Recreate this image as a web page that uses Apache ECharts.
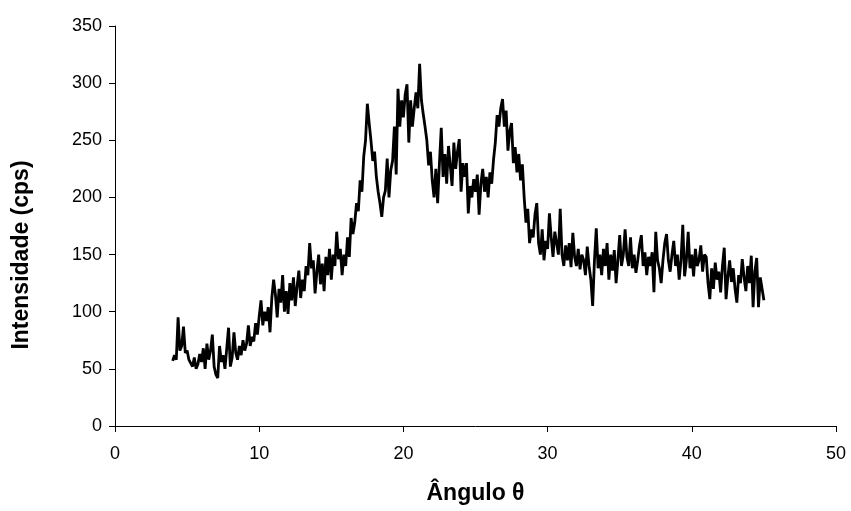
<!DOCTYPE html>
<html>
<head>
<meta charset="utf-8">
<script src="https://cdn.jsdelivr.net/npm/echarts@6/dist/echarts.min.js"></script>
<style>
  html, body { margin: 0; padding: 0; background: #fff; }
  #chart { width: 851px; height: 511px; }
</style>
</head>
<body>
<div id="chart"></div>
<script>
// varredura: 4.0 a 45.0 graus, passo 0.125
var angleStart = 4.0;
var angleStep = 0.125;

// intensidade (cps), uma linha por grau
var intensity = [
    57, 62, 58, 95, 66, 70, 87, 64,       // 4
    66, 58, 55, 52, 60, 50, 54, 63,       // 5
    56, 68, 50, 72, 58, 66, 80, 52,       // 6
    45, 42, 70, 56, 62, 50, 68, 86,       // 7
    52, 60, 82, 64, 58, 70, 62, 75,       // 8
    66, 72, 88, 70, 78, 74, 90, 80,       // 9
    96, 110, 88, 100, 92, 104, 82, 112,   // 10
    128, 115, 95, 120, 108, 132, 100, 118, // 11
    98, 125, 110, 130, 105, 122, 136, 112, // 12
    128, 118, 140, 132, 160, 138, 145, 116, // 13
    135, 150, 124, 142, 118, 148, 132, 155, // 14
    128, 150, 140, 170, 146, 155, 132, 150, // 15
    140, 165, 148, 182, 168, 178, 195, 188, // 16
    215, 205, 236, 250, 282, 265, 250, 232, // 17
    240, 218, 205, 195, 183, 200, 206, 234, // 18
    200, 224, 232, 262, 220, 295, 262, 285, // 19
    270, 290, 299, 248, 285, 262, 278, 292, // 20
    278, 317, 285, 273, 262, 250, 228, 240, // 21
    215, 200, 225, 195, 230, 261, 218, 238, // 22
    212, 245, 228, 210, 248, 225, 240, 251, // 23
    205, 230, 218, 230, 186, 210, 200, 216, // 24
    205, 220, 185, 212, 225, 205, 218, 200, // 25
    222, 212, 233, 248, 272, 262, 278, 286, // 26
    262, 276, 241, 258, 265, 230, 244, 222, // 27
    238, 215, 229, 200, 178, 190, 160, 172, // 28
    165, 185, 195, 160, 150, 172, 145, 162, // 29
    155, 186, 165, 148, 170, 160, 150, 190, // 30
    150, 140, 158, 145, 160, 139, 169, 148, // 31
    140, 155, 137, 150, 145, 132, 157, 140, // 32
    128, 105, 145, 173, 138, 150, 132, 155, // 33
    140, 160, 128, 150, 136, 154, 125, 145, // 34
    167, 140, 150, 172, 148, 140, 165, 138, // 35
    150, 134, 145, 158, 167, 140, 152, 132, // 36
    148, 140, 152, 117, 170, 145, 138, 125, // 37
    145, 160, 168, 145, 135, 150, 162, 140, // 38
    150, 128, 145, 176, 131, 145, 170, 138, // 39
    150, 131, 155, 140, 145, 158, 135, 150, // 40
    148, 125, 111, 138, 120, 143, 128, 135, // 41
    117, 140, 156, 111, 130, 145, 126, 138, // 42
    120, 108, 132, 125, 146, 130, 118, 140, // 43
    125, 149, 104, 135, 147, 104, 130, 120, // 44
    110                                     // 45
];

var xTicks = [0, 10, 20, 30, 40, 50];
var yTicks = [0, 50, 100, 150, 200, 250, 300, 350];

var points = [];
for (var i = 0; i < intensity.length; i++) {
    points.push([angleStart + i * angleStep, intensity[i]]);
}

var myChart = echarts.init(document.getElementById('chart'));
var font = 'Liberation Sans, Arial, sans-serif';

var option = {
    backgroundColor: '#fff',
    animation: false,
    grid: { left: 115, right: 15, top: 26, bottom: 85 },
    xAxis: {
        type: 'value',
        min: xTicks[0],
        max: xTicks[xTicks.length - 1],
        interval: 10,
        name: 'Ângulo θ',
        nameLocation: 'middle',
        nameGap: 56,
        nameTextStyle: { color: '#000', fontSize: 23, fontWeight: 'bold', fontFamily: font },
        axisLine: { lineStyle: { color: '#000', width: 1 } },
        axisTick: { inside: false, length: 6, lineStyle: { color: '#000' } },
        axisLabel: { color: '#000', fontSize: 18, fontFamily: font, margin: 19 },
        splitLine: { show: false }
    },
    yAxis: {
        type: 'value',
        min: yTicks[0],
        max: yTicks[yTicks.length - 1],
        interval: 50,
        name: 'Intensidade (cps)',
        nameLocation: 'middle',
        nameGap: 82,
        nameTextStyle: {
            color: '#000', fontSize: 23, fontWeight: 'bold', fontFamily: font,
            padding: [0, 58, 0, 0]   // empurra o título um pouco para baixo
        },
        axisLine: { show: true, lineStyle: { color: '#000', width: 1 } },
        axisTick: { show: true, inside: false, length: 6, lineStyle: { color: '#000' } },
        axisLabel: { color: '#000', fontSize: 18, fontFamily: font, margin: 13 },
        splitLine: { show: false }
    },
    series: [{
        type: 'line',
        data: points,
        showSymbol: false,
        lineStyle: { color: '#000', width: 2.8 }
    }]
};

myChart.setOption(option);
</script>
</body>
</html>
